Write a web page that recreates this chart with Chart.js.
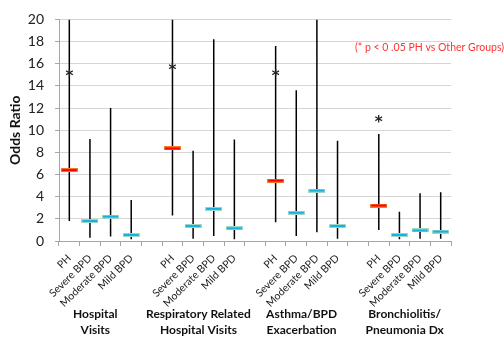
<!DOCTYPE html>
<html>
<head>
<meta charset="utf-8">
<script src="https://cdn.jsdelivr.net/npm/chart.js"></script>
<style>
  body { margin: 0; background: #fff; }
</style>
</head>
<body>
<canvas id="orChart" width="504" height="339"></canvas>
<script>
    // group titles (two lines each) and the sub groups in every block
    var groups = [
        ['Hospital', 'Visits'],
        ['Respiratory Related', 'Hospital Visits'],
        ['Asthma/BPD', 'Exacerbation'],
        ['Bronchiolitis/', 'Pneumonia Dx']
    ];
    var subgroups = ['PH', 'Severe BPD', 'Moderate BPD', 'Mild BPD'];

    // odds ratio and 95% CI, one row per group (PH, Severe, Moderate, Mild)
    var oddsRatio = [
        [6.4, 1.8, 2.2, 0.55],
        [8.35, 1.35, 2.9, 1.15],
        [5.45, 2.55, 4.55, 1.35],
        [3.2, 0.55, 0.95, 0.85]
    ];
    var lowerCI = [
        [1.8, 0.3, 0.4, 0.15],
        [2.3, 0.2, 0.45, 0.15],
        [1.7, 0.45, 0.8, 0.2],
        [1.0, 0.15, 0.2, 0.2]
    ];
    var upperCI = [
        [20, 9.2, 12.0, 3.7],
        [20, 8.15, 18.2, 9.15],
        [17.6, 13.6, 20, 9.05],
        [9.65, 2.65, 4.3, 4.4]
    ];
    // asterisk height above the PH bar of each group
    var starAt = [15.2, 15.7, 15.2, 11.0];

    var yTicks = { min: 0, max: 20, step: 2 };

    // build the flat category list with an empty slot between groups
    var labels = [], ciData = [], orData = [], starData = [], isPH = [];
    for (var g = 0; g < groups.length; g++) {
        for (var s = 0; s < subgroups.length; s++) {
            labels.push(subgroups[s]);
            ciData.push([lowerCI[g][s], upperCI[g][s]]);
            orData.push(oddsRatio[g][s]);
            starData.push(s === 0 ? starAt[g] : null);
            isPH.push(s === 0);
        }
        if (g < groups.length - 1) {
            labels.push('');
            ciData.push(null);
            orData.push(null);
            starData.push(null);
            isPH.push(false);
        }
    }

    function makeMarker(fill, edge) {
        var c = document.createElement('canvas');
        c.width = 17;
        c.height = 4;
        var g2 = c.getContext('2d');
        g2.fillStyle = edge;
        g2.fillRect(0, 0, 17, 4);
        g2.fillStyle = fill;
        g2.fillRect(1, 1, 15, 2);
        return c;
    }
    var redMark = makeMarker('#ff0000', '#f57a2a');
    var blueMark = makeMarker('#16b0dc', '#9fd8c8');

    var extras = {
        id: 'extras',
        afterDatasetsDraw: function (chart) {
            var ctx = chart.ctx;
            var meta = chart.getDatasetMeta(2);
            ctx.save();
            ctx.fillStyle = '#222';
            ctx.font = 'bold 15px "DejaVu Sans"';
            ctx.textAlign = 'center';
            ctx.textBaseline = 'alphabetic';
            var m = ctx.measureText('*');
            var shift = (m.actualBoundingBoxAscent - m.actualBoundingBoxDescent) / 2;
            meta.data.forEach(function (pt, i) {
                if (starData[i] == null) return;
                ctx.fillText('*', pt.x, pt.y + shift);
            });

            // note at the top right
            ctx.fillStyle = '#ff3333';
            ctx.font = '10.5px Lato';
            ctx.textAlign = 'left';
            ctx.textBaseline = 'middle';
            ctx.fillText('(* p < 0 .05 PH vs Other Groups)', 355, 48);

            // group titles under the rotated labels
            var xs = chart.scales.x;
            ctx.fillStyle = '#111';
            ctx.font = 'bold 12px Lato';
            ctx.textAlign = 'center';
            for (var k = 0; k < groups.length; k++) {
                var first = xs.getPixelForValue(k * 5);
                var last = xs.getPixelForValue(k * 5 + 3);
                var cx = (first + last) / 2 - 5;
                ctx.fillText(groups[k][0], cx, 314);
                ctx.fillText(groups[k][1], cx, 330);
            }
            ctx.restore();
        }
    };

    var ctx = document.getElementById('orChart').getContext('2d');
    var orChart = new Chart(ctx, {
        type: 'bar',
        data: {
            labels: labels,
            datasets: [
                {
                    label: '95% CI',
                    data: ciData,
                    backgroundColor: '#000',
                    barThickness: 1.5,
                    inflateAmount: 0,
                    order: 3
                },
                {
                    type: 'line',
                    label: 'Odds Ratio',
                    data: orData,
                    showLine: false,
                    pointStyle: function (c) { return isPH[c.dataIndex] ? redMark : blueMark; },
                    pointRadius: 8,
                    order: 1
                },
                {
                    type: 'line',
                    label: 'p < 0.05',
                    data: starData,
                    showLine: false,
                    pointRadius: 0,
                    order: 2
                }
            ]
        },
        options: {
            responsive: false,
            animation: false,
            layout: { padding: { top: 13, right: 53, left: 0, bottom: 0 } },
            plugins: {
                legend: { display: false },
                tooltip: { enabled: false }
            },
            scales: {
                x: {
                    grid: {
                        offset: true,
                        drawOnChartArea: false,
                        tickLength: 5,
                        tickColor: '#a6a6a6'
                    },
                    border: { color: '#a6a6a6' },
                    ticks: {
                        color: '#222',
                        font: { family: 'Lato', size: 10.5 },
                        minRotation: 45,
                        maxRotation: 45,
                        autoSkip: false,
                        padding: 6
                    },
                    afterFit: function (s) { s.height = 98; }
                },
                y: {
                    min: yTicks.min,
                    max: yTicks.max,
                    ticks: {
                        stepSize: 1,
                        color: '#222',
                        font: { family: 'Lato', size: 14 },
                        padding: 11,
                        callback: function (v) { return v % yTicks.step === 0 ? v : ''; }
                    },
                    grid: {
                        color: function (c) { return c.tick.value % yTicks.step === 0 ? '#d6d6d6' : 'rgba(0,0,0,0)'; },
                        tickColor: '#a6a6a6',
                        tickLength: 4
                    },
                    border: { color: '#a6a6a6' },
                    title: {
                        display: true,
                        text: 'Odds Ratio',
                        color: '#111',
                        font: { family: 'Lato', size: 14, weight: 'bold' },
                        padding: { top: 7, bottom: 0 }
                    },
                    afterFit: function (s) { s.width = 59; }
                }
            }
        },
        plugins: [extras]
    });
</script>
</body>
</html>
